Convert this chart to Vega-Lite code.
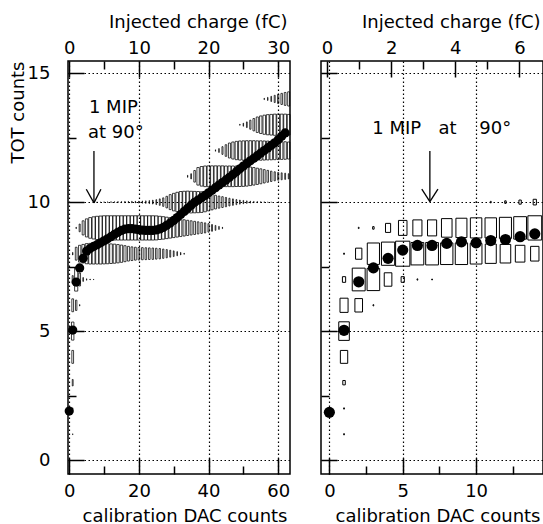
{
"$schema": "https://vega.github.io/schema/vega-lite/v6.json",
"padding": {"left": 8, "top": 12, "right": 0, "bottom": 0},
"spacing": 31,
"bounds": "flush",
"config": {
  "view": {"stroke": "black", "strokeWidth": 1.5},
  "axis": {"domain": false, "tickColor": "black", "tickWidth": 1.5, "labelFont": "DejaVu Sans", "labelFontSize": 18, "labelColor": "black", "titleFont": "DejaVu Sans", "titleFontSize": 18, "titleFontWeight": "normal", "titleColor": "black", "gridColor": "black", "gridDash": [1.5, 2.5], "gridWidth": 1.2, "minExtent": 0, "labelFlush": false, "labelOverlap": false},
  "text": {"font": "DejaVu Sans", "fontSize": 18}
},
"datasets": {
  "leftBoxes": [
    {"dac":1,"tot":1,"f":0.04},{"dac":1,"tot":2,"f":0.05},{"dac":1,"tot":3,"f":0.25},{"dac":1,"tot":4,"f":0.5},
    {"dac":1,"tot":5,"f":0.7},{"dac":2,"tot":5,"f":0.05},
    {"dac":1,"tot":6,"f":0.5},{"dac":2,"tot":6,"f":0.4},{"dac":3,"tot":6,"f":0.06},
    {"dac":1,"tot":7,"f":0.3},{"dac":2,"tot":7,"f":0.9},{"dac":3,"tot":7,"f":0.5},{"dac":4,"tot":7,"f":0.15},{"dac":5,"tot":7,"f":0.06},{"dac":6,"tot":7,"f":0.04},{"dac":7,"tot":7,"f":0.03},
    {"dac":1,"tot":8,"f":0.1},{"dac":2,"tot":8,"f":0.5},{"dac":3,"tot":8,"f":0.65},{"dac":4,"tot":8,"f":0.72},{"dac":5,"tot":8,"f":0.78},{"dac":6,"tot":8,"f":0.8},{"dac":7,"tot":8,"f":0.8},{"dac":8,"tot":8,"f":0.8},{"dac":9,"tot":8,"f":0.8},{"dac":10,"tot":8,"f":0.79},{"dac":11,"tot":8,"f":0.78},{"dac":12,"tot":8,"f":0.76},{"dac":13,"tot":8,"f":0.74},{"dac":14,"tot":8,"f":0.71},{"dac":15,"tot":8,"f":0.67},{"dac":16,"tot":8,"f":0.62},{"dac":17,"tot":8,"f":0.57},{"dac":18,"tot":8,"f":0.53},{"dac":19,"tot":8,"f":0.5},{"dac":20,"tot":8,"f":0.48},{"dac":21,"tot":8,"f":0.47},{"dac":22,"tot":8,"f":0.46},{"dac":23,"tot":8,"f":0.45},{"dac":24,"tot":8,"f":0.44},{"dac":25,"tot":8,"f":0.42},{"dac":26,"tot":8,"f":0.4},{"dac":27,"tot":8,"f":0.36},{"dac":28,"tot":8,"f":0.32},{"dac":29,"tot":8,"f":0.27},{"dac":30,"tot":8,"f":0.22},{"dac":31,"tot":8,"f":0.16},{"dac":32,"tot":8,"f":0.1},{"dac":33,"tot":8,"f":0.05},
    {"dac":2,"tot":9,"f":0.06},{"dac":3,"tot":9,"f":0.3},{"dac":4,"tot":9,"f":0.55},{"dac":5,"tot":9,"f":0.7},{"dac":6,"tot":9,"f":0.8},{"dac":7,"tot":9,"f":0.86},{"dac":8,"tot":9,"f":0.9},{"dac":9,"tot":9,"f":0.92},{"dac":10,"tot":9,"f":0.94},{"dac":11,"tot":9,"f":0.94},{"dac":12,"tot":9,"f":0.94},{"dac":13,"tot":9,"f":0.94},{"dac":14,"tot":9,"f":0.94},{"dac":15,"tot":9,"f":0.94},{"dac":16,"tot":9,"f":0.94},{"dac":17,"tot":9,"f":0.94},{"dac":18,"tot":9,"f":0.94},{"dac":19,"tot":9,"f":0.94},{"dac":20,"tot":9,"f":0.94},{"dac":21,"tot":9,"f":0.94},{"dac":22,"tot":9,"f":0.94},{"dac":23,"tot":9,"f":0.94},{"dac":24,"tot":9,"f":0.94},{"dac":25,"tot":9,"f":0.93},{"dac":26,"tot":9,"f":0.9},{"dac":27,"tot":9,"f":0.87},{"dac":28,"tot":9,"f":0.83},{"dac":29,"tot":9,"f":0.79},{"dac":30,"tot":9,"f":0.75},{"dac":31,"tot":9,"f":0.71},{"dac":32,"tot":9,"f":0.67},{"dac":33,"tot":9,"f":0.63},{"dac":34,"tot":9,"f":0.59},{"dac":35,"tot":9,"f":0.55},{"dac":36,"tot":9,"f":0.51},{"dac":37,"tot":9,"f":0.47},{"dac":38,"tot":9,"f":0.43},{"dac":39,"tot":9,"f":0.39},{"dac":40,"tot":9,"f":0.33},{"dac":41,"tot":9,"f":0.26},{"dac":42,"tot":9,"f":0.19},{"dac":43,"tot":9,"f":0.12},{"dac":44,"tot":9,"f":0.06},
    {"dac":8,"tot":10,"f":0.02},{"dac":9,"tot":10,"f":0.02},{"dac":10,"tot":10,"f":0.03},{"dac":11,"tot":10,"f":0.03},{"dac":12,"tot":10,"f":0.04},{"dac":13,"tot":10,"f":0.04},{"dac":14,"tot":10,"f":0.05},{"dac":15,"tot":10,"f":0.05},{"dac":16,"tot":10,"f":0.06},{"dac":17,"tot":10,"f":0.06},{"dac":18,"tot":10,"f":0.07},{"dac":19,"tot":10,"f":0.07},{"dac":20,"tot":10,"f":0.08},{"dac":21,"tot":10,"f":0.09},{"dac":22,"tot":10,"f":0.1},{"dac":23,"tot":10,"f":0.12},{"dac":24,"tot":10,"f":0.15},{"dac":25,"tot":10,"f":0.19},{"dac":26,"tot":10,"f":0.25},{"dac":27,"tot":10,"f":0.33},{"dac":28,"tot":10,"f":0.45},{"dac":29,"tot":10,"f":0.58},{"dac":30,"tot":10,"f":0.68},{"dac":31,"tot":10,"f":0.76},{"dac":32,"tot":10,"f":0.82},{"dac":33,"tot":10,"f":0.84},{"dac":34,"tot":10,"f":0.85},{"dac":35,"tot":10,"f":0.84},{"dac":36,"tot":10,"f":0.83},{"dac":37,"tot":10,"f":0.82},{"dac":38,"tot":10,"f":0.8},{"dac":39,"tot":10,"f":0.75},{"dac":40,"tot":10,"f":0.68},{"dac":41,"tot":10,"f":0.6},{"dac":42,"tot":10,"f":0.53},{"dac":43,"tot":10,"f":0.47},{"dac":44,"tot":10,"f":0.42},{"dac":45,"tot":10,"f":0.36},{"dac":46,"tot":10,"f":0.3},{"dac":47,"tot":10,"f":0.25},{"dac":48,"tot":10,"f":0.2},{"dac":49,"tot":10,"f":0.16},{"dac":50,"tot":10,"f":0.13},{"dac":51,"tot":10,"f":0.1},{"dac":52,"tot":10,"f":0.08},{"dac":53,"tot":10,"f":0.06},{"dac":54,"tot":10,"f":0.05},{"dac":55,"tot":10,"f":0.04},{"dac":56,"tot":10,"f":0.03},{"dac":57,"tot":10,"f":0.02},{"dac":58,"tot":10,"f":0.02},
    {"dac":34,"tot":11,"f":0.08},{"dac":35,"tot":11,"f":0.2},{"dac":36,"tot":11,"f":0.45},{"dac":37,"tot":11,"f":0.68},{"dac":38,"tot":11,"f":0.76},{"dac":39,"tot":11,"f":0.8},{"dac":40,"tot":11,"f":0.81},{"dac":41,"tot":11,"f":0.81},{"dac":42,"tot":11,"f":0.81},{"dac":43,"tot":11,"f":0.81},{"dac":44,"tot":11,"f":0.81},{"dac":45,"tot":11,"f":0.8},{"dac":46,"tot":11,"f":0.8},{"dac":47,"tot":11,"f":0.8},{"dac":48,"tot":11,"f":0.79},{"dac":49,"tot":11,"f":0.79},{"dac":50,"tot":11,"f":0.78},{"dac":51,"tot":11,"f":0.76},{"dac":52,"tot":11,"f":0.72},{"dac":53,"tot":11,"f":0.68},{"dac":54,"tot":11,"f":0.63},{"dac":55,"tot":11,"f":0.58},{"dac":56,"tot":11,"f":0.52},{"dac":57,"tot":11,"f":0.46},{"dac":58,"tot":11,"f":0.4},{"dac":59,"tot":11,"f":0.35},{"dac":60,"tot":11,"f":0.3},{"dac":61,"tot":11,"f":0.27},{"dac":62,"tot":11,"f":0.24},{"dac":63,"tot":11,"f":0.2},
    {"dac":42,"tot":12,"f":0.06},{"dac":43,"tot":12,"f":0.15},{"dac":44,"tot":12,"f":0.3},{"dac":45,"tot":12,"f":0.45},{"dac":46,"tot":12,"f":0.58},{"dac":47,"tot":12,"f":0.66},{"dac":48,"tot":12,"f":0.71},{"dac":49,"tot":12,"f":0.74},{"dac":50,"tot":12,"f":0.75},{"dac":51,"tot":12,"f":0.76},{"dac":52,"tot":12,"f":0.76},{"dac":53,"tot":12,"f":0.76},{"dac":54,"tot":12,"f":0.75},{"dac":55,"tot":12,"f":0.75},{"dac":56,"tot":12,"f":0.74},{"dac":57,"tot":12,"f":0.73},{"dac":58,"tot":12,"f":0.72},{"dac":59,"tot":12,"f":0.71},{"dac":60,"tot":12,"f":0.7},{"dac":61,"tot":12,"f":0.69},{"dac":62,"tot":12,"f":0.68},{"dac":63,"tot":12,"f":0.66},
    {"dac":49,"tot":13,"f":0.05},{"dac":50,"tot":13,"f":0.12},{"dac":51,"tot":13,"f":0.22},{"dac":52,"tot":13,"f":0.35},{"dac":53,"tot":13,"f":0.48},{"dac":54,"tot":13,"f":0.6},{"dac":55,"tot":13,"f":0.68},{"dac":56,"tot":13,"f":0.74},{"dac":57,"tot":13,"f":0.78},{"dac":58,"tot":13,"f":0.8},{"dac":59,"tot":13,"f":0.82},{"dac":60,"tot":13,"f":0.82},{"dac":61,"tot":13,"f":0.82},{"dac":62,"tot":13,"f":0.82},{"dac":63,"tot":13,"f":0.8},
    {"dac":56,"tot":14,"f":0.06},{"dac":57,"tot":14,"f":0.12},{"dac":58,"tot":14,"f":0.2},{"dac":59,"tot":14,"f":0.28},{"dac":60,"tot":14,"f":0.36},{"dac":61,"tot":14,"f":0.43},{"dac":62,"tot":14,"f":0.5},{"dac":63,"tot":14,"f":0.55}
  ],
  "leftMean": [
    {"dac":0,"tot":1.9},{"dac":1,"tot":5.04},{"dac":2,"tot":6.9},{"dac":3,"tot":7.45},{"dac":4,"tot":7.82},{"dac":5,"tot":8.1},{"dac":6,"tot":8.2},{"dac":7,"tot":8.28},{"dac":8,"tot":8.35},{"dac":9,"tot":8.42},{"dac":10,"tot":8.5},{"dac":11,"tot":8.58},{"dac":12,"tot":8.66},{"dac":13,"tot":8.75},{"dac":14,"tot":8.83},{"dac":15,"tot":8.9},{"dac":16,"tot":8.95},{"dac":17,"tot":8.97},{"dac":18,"tot":8.97},{"dac":19,"tot":8.95},{"dac":20,"tot":8.93},{"dac":21,"tot":8.91},{"dac":22,"tot":8.9},{"dac":23,"tot":8.9},{"dac":24,"tot":8.9},{"dac":25,"tot":8.92},{"dac":26,"tot":8.96},{"dac":27,"tot":9.02},{"dac":28,"tot":9.1},{"dac":29,"tot":9.19},{"dac":30,"tot":9.29},{"dac":31,"tot":9.4},{"dac":32,"tot":9.52},{"dac":33,"tot":9.64},{"dac":34,"tot":9.76},{"dac":35,"tot":9.88},{"dac":36,"tot":9.99},{"dac":37,"tot":10.08},{"dac":38,"tot":10.17},{"dac":39,"tot":10.26},{"dac":40,"tot":10.36},{"dac":41,"tot":10.46},{"dac":42,"tot":10.56},{"dac":43,"tot":10.66},{"dac":44,"tot":10.76},{"dac":45,"tot":10.86},{"dac":46,"tot":10.96},{"dac":47,"tot":11.07},{"dac":48,"tot":11.18},{"dac":49,"tot":11.29},{"dac":50,"tot":11.4},{"dac":51,"tot":11.5},{"dac":52,"tot":11.6},{"dac":53,"tot":11.7},{"dac":54,"tot":11.8},{"dac":55,"tot":11.9},{"dac":56,"tot":12.0},{"dac":57,"tot":12.1},{"dac":58,"tot":12.2},{"dac":59,"tot":12.3},{"dac":60,"tot":12.42},{"dac":61,"tot":12.55},{"dac":62,"tot":12.68}
  ],
  "rightBoxes": [
    {"dac":1,"tot":1,"f":0.05},{"dac":1,"tot":2,"f":0.05},{"dac":1,"tot":3,"f":0.17},{"dac":1,"tot":4,"f":0.5},{"dac":1,"tot":5,"f":0.72},
    {"dac":1,"tot":6,"f":0.55},{"dac":2,"tot":6,"f":0.52},{"dac":3,"tot":6,"f":0.05},
    {"dac":1,"tot":7,"f":0.22},{"dac":2,"tot":7,"f":0.88},{"dac":3,"tot":7,"f":0.86},{"dac":4,"tot":7,"f":0.52},{"dac":5,"tot":7,"f":0.22},{"dac":6,"tot":7,"f":0.05},{"dac":7,"tot":7,"f":0.04},
    {"dac":1,"tot":8,"f":0.05},{"dac":2,"tot":8,"f":0.43},{"dac":3,"tot":8,"f":0.83},{"dac":4,"tot":8,"f":0.9},{"dac":5,"tot":8,"f":0.97},{"dac":6,"tot":8,"f":0.87},{"dac":7,"tot":8,"f":0.87},{"dac":8,"tot":8,"f":0.84},{"dac":9,"tot":8,"f":0.84},{"dac":10,"tot":8,"f":0.8},{"dac":11,"tot":8,"f":0.75},{"dac":12,"tot":8,"f":0.72},{"dac":13,"tot":8,"f":0.65},{"dac":14,"tot":8,"f":0.57},
    {"dac":2,"tot":9,"f":0.05},{"dac":3,"tot":9,"f":0.1},{"dac":4,"tot":9,"f":0.35},{"dac":5,"tot":9,"f":0.58},{"dac":6,"tot":9,"f":0.62},{"dac":7,"tot":9,"f":0.62},{"dac":8,"tot":9,"f":0.72},{"dac":9,"tot":9,"f":0.75},{"dac":10,"tot":9,"f":0.78},{"dac":11,"tot":9,"f":0.78},{"dac":12,"tot":9,"f":0.82},{"dac":13,"tot":9,"f":0.87},{"dac":14,"tot":9,"f":0.94},
    {"dac":10,"tot":10,"f":0.03},{"dac":11,"tot":10,"f":0.06},{"dac":12,"tot":10,"f":0.1},{"dac":13,"tot":10,"f":0.16},{"dac":14,"tot":10,"f":0.22}
  ],
  "rightMean": [
    {"dac":0,"tot":1.85},{"dac":1,"tot":5.03},{"dac":2,"tot":6.91},{"dac":3,"tot":7.45},{"dac":4,"tot":7.82},{"dac":5,"tot":8.14},{"dac":6,"tot":8.32},{"dac":7,"tot":8.32},{"dac":8,"tot":8.4},{"dac":9,"tot":8.46},{"dac":10,"tot":8.42},{"dac":11,"tot":8.51},{"dac":12,"tot":8.55},{"dac":13,"tot":8.66},{"dac":14,"tot":8.77}
  ],
  "leftArrow": [
    {"x":7.1,"y":11.98,"x2":7.1,"y2":9.97},{"x":4.9,"y":10.5,"x2":7.1,"y2":9.97},{"x":9.1,"y":10.5,"x2":7.1,"y2":9.97}
  ],
  "rightArrow": [
    {"x":6.85,"y":11.98,"x2":6.85,"y2":10.02},{"x":6.3,"y":10.5,"x2":6.85,"y2":10.02},{"x":7.4,"y":10.5,"x2":6.85,"y2":10.02}
  ],
  "leftText": [
    {"x":5.66,"y":13.64,"t":"1 MIP"},{"x":5.4,"y":12.67,"t":"at 90°"}
  ],
  "rightText": [
    {"x":2.93,"y":12.83,"t":"1 MIP\u00a0\u00a0 at\u00a0\u00a0\u00a0 90°"}
  ]
},
"hconcat": [
  {
    "width": 222, "height": 413,
    "resolve": {"axis": {"x": "independent", "y": "independent"}},
    "layer": [
      {
        "data": {"name": "leftBoxes"},
        "mark": {"type": "point", "shape": "M-0.135,-1H0.135V1H-0.135Z", "filled": false, "stroke": "black", "strokeWidth": 0.75, "opacity": 1},
        "encoding": {
          "x": {"field": "dac", "type": "quantitative", "scale": {"domain": [-0.35, 63.39], "nice": false, "zero": false},
            "axis": {"orient": "bottom", "title": "calibration DAC counts", "titleAlign": "right", "titleX": 219, "titlePadding": -1,
              "values": [0, 10, 20, 30, 40, 50, 60],
              "labelExpr": "datum.value % 20 === 0 ? datum.label : ''",
              "tickSize": {"condition": {"test": "datum.value % 20 === 0", "value": -16}, "value": -8},
              "labelPadding": 24,
              "grid": true,
              "gridOpacity": {"condition": {"test": "datum.value % 20 === 0", "value": 1}, "value": 0}}},
          "y": {"field": "tot", "type": "quantitative", "scale": {"domain": [-0.54, 15.47], "nice": false, "zero": false},
            "axis": {"orient": "left", "title": "TOT counts", "titleAnchor": "end", "titlePadding": 0,
              "values": [0, 2.5, 5, 7.5, 10, 12.5, 15],
              "labelExpr": "datum.value % 5 === 0 ? datum.label : ''",
              "tickSize": {"condition": {"test": "datum.value % 5 === 0", "value": -16}, "value": -8},
              "labelPadding": 34,
              "grid": true,
              "gridOpacity": {"condition": {"test": "datum.value % 5 === 0", "value": 1}, "value": 0}}},
          "size": {"field": "f", "type": "quantitative", "scale": {"type": "pow", "exponent": 2, "domain": [0, 1], "range": [0, 666]}, "legend": null}
        }
      },
      {
        "data": {"name": "leftMean"},
        "mark": {"type": "point", "shape": "circle", "filled": true, "color": "black", "size": 85, "opacity": 1},
        "encoding": {
          "x": {"field": "dac", "type": "quantitative", "scale": {"domain": [-0.35, 63.39], "nice": false, "zero": false},
            "axis": {"orient": "top", "title": "Injected charge (fC)", "titleAlign": "right", "titleX": 219, "titlePadding": 0,
              "values": [0, 10, 20, 30, 40, 50, 60],
              "labelExpr": "datum.value % 20 === 0 ? format(datum.value / 2, 'd') : ''",
              "tickSize": {"condition": {"test": "datum.value % 20 === 0", "value": -16}, "value": -8},
              "labelPadding": 19.5,
              "grid": false}},
          "y": {"field": "tot", "type": "quantitative", "scale": {"domain": [-0.54, 15.47], "nice": false, "zero": false}, "axis": null}
        }
      },
      {
        "data": {"name": "leftArrow"},
        "mark": {"type": "rule", "color": "black", "strokeWidth": 1.3},
        "encoding": {
          "x": {"field": "x", "type": "quantitative", "scale": {"domain": [-0.35, 63.39], "nice": false, "zero": false}, "axis": null},
          "x2": {"field": "x2"},
          "y": {"field": "y", "type": "quantitative", "scale": {"domain": [-0.54, 15.47], "nice": false, "zero": false}, "axis": null},
          "y2": {"field": "y2"}
        }
      },
      {
        "data": {"name": "leftText"},
        "mark": {"type": "text", "align": "left", "baseline": "middle", "color": "black"},
        "encoding": {
          "x": {"field": "x", "type": "quantitative", "scale": {"domain": [-0.35, 63.39], "nice": false, "zero": false}, "axis": null},
          "y": {"field": "y", "type": "quantitative", "scale": {"domain": [-0.54, 15.47], "nice": false, "zero": false}, "axis": null},
          "text": {"field": "t", "type": "nominal"}
        }
      }
    ]
  },
  {
    "width": 222, "height": 413,
    "resolve": {"axis": {"x": "independent", "y": "independent"}},
    "layer": [
      {
        "data": {"name": "rightBoxes"},
        "mark": {"type": "point", "shape": "M-0.569,-1H0.569V1H-0.569Z", "filled": false, "stroke": "black", "strokeWidth": 1, "opacity": 1},
        "encoding": {
          "x": {"field": "dac", "type": "quantitative", "scale": {"domain": [-0.57, 14.56], "nice": false, "zero": false},
            "axis": {"orient": "bottom", "title": "calibration DAC counts", "titleAlign": "right", "titleX": 219, "titlePadding": -1,
              "values": [0, 2.5, 5, 7.5, 10, 12.5],
              "labelExpr": "datum.value % 5 === 0 ? datum.label : ''",
              "tickSize": {"condition": {"test": "datum.value % 5 === 0", "value": -16}, "value": -8},
              "labelPadding": 24,
              "grid": true,
              "gridOpacity": {"condition": {"test": "datum.value % 5 === 0", "value": 1}, "value": 0}}},
          "y": {"field": "tot", "type": "quantitative", "scale": {"domain": [-0.54, 15.47], "nice": false, "zero": false},
            "axis": {"orient": "left", "title": null, "labels": false,
              "values": [0, 2.5, 5, 7.5, 10, 12.5, 15],
              "tickSize": {"condition": {"test": "datum.value % 5 === 0", "value": -16}, "value": -8},
              "grid": true,
              "gridOpacity": {"condition": {"test": "datum.value % 5 === 0", "value": 1}, "value": 0}}},
          "size": {"field": "f", "type": "quantitative", "scale": {"type": "pow", "exponent": 2, "domain": [0, 1], "range": [0, 666]}, "legend": null}
        }
      },
      {
        "data": {"name": "rightMean"},
        "mark": {"type": "point", "shape": "circle", "filled": true, "color": "black", "size": 125, "opacity": 1},
        "encoding": {
          "x": {"field": "dac", "type": "quantitative", "scale": {"domain": [-0.57, 14.56], "nice": false, "zero": false},
            "axis": {"orient": "top", "title": "Injected charge (fC)", "titleAlign": "right", "titleX": 219, "titlePadding": 0,
              "values": [-0.16, 2.025, 4.21, 6.395, 8.58, 10.765, 12.95],
              "labelExpr": "indexof([-0.16, 4.21, 8.58, 12.95], datum.value) >= 0 ? format(round((datum.value + 0.16) / 2.185), 'd') : ''",
              "tickSize": {"condition": {"test": "indexof([-0.16, 4.21, 8.58, 12.95], datum.value) >= 0", "value": -16}, "value": -8},
              "labelPadding": 19.5,
              "grid": false}},
          "y": {"field": "tot", "type": "quantitative", "scale": {"domain": [-0.54, 15.47], "nice": false, "zero": false}, "axis": null}
        }
      },
      {
        "data": {"name": "rightArrow"},
        "mark": {"type": "rule", "color": "black", "strokeWidth": 1.3},
        "encoding": {
          "x": {"field": "x", "type": "quantitative", "scale": {"domain": [-0.57, 14.56], "nice": false, "zero": false}, "axis": null},
          "x2": {"field": "x2"},
          "y": {"field": "y", "type": "quantitative", "scale": {"domain": [-0.54, 15.47], "nice": false, "zero": false}, "axis": null},
          "y2": {"field": "y2"}
        }
      },
      {
        "data": {"name": "rightText"},
        "mark": {"type": "text", "align": "left", "baseline": "middle", "color": "black"},
        "encoding": {
          "x": {"field": "x", "type": "quantitative", "scale": {"domain": [-0.57, 14.56], "nice": false, "zero": false}, "axis": null},
          "y": {"field": "y", "type": "quantitative", "scale": {"domain": [-0.54, 15.47], "nice": false, "zero": false}, "axis": null},
          "text": {"field": "t", "type": "nominal"}
        }
      }
    ]
  }
]
}
